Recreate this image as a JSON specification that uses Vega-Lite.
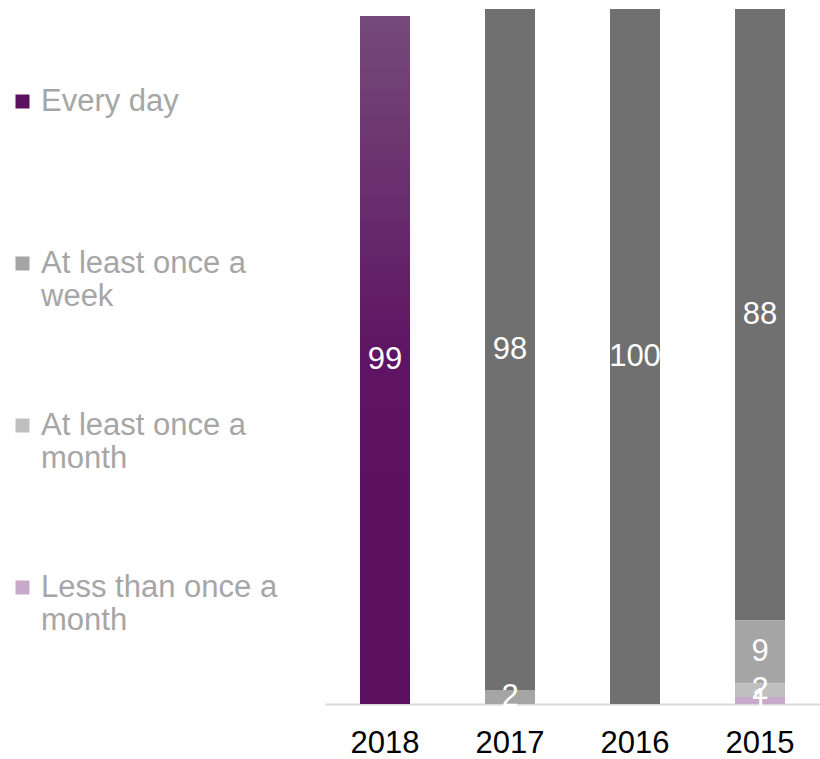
{
  "$schema": "https://vega.github.io/schema/vega-lite/v6.json",
  "width": 495,
  "height": 695,
  "autosize": "none",
  "padding": {"left": 325, "top": 9, "right": 0, "bottom": 55},
  "background": "white",
  "config": {"view": {"stroke": null}, "font": "Liberation Sans"},
  "data": {"values": [
    {"year": "2018", "series": "Every day", "k": 4, "value": 99},
    {"year": "2017", "series": "Every day", "k": 4, "value": 98},
    {"year": "2017", "series": "At least once a week", "k": 3, "value": 2},
    {"year": "2016", "series": "Every day", "k": 4, "value": 100},
    {"year": "2015", "series": "Every day", "k": 4, "value": 88},
    {"year": "2015", "series": "At least once a week", "k": 3, "value": 9},
    {"year": "2015", "series": "At least once a month", "k": 2, "value": 2},
    {"year": "2015", "series": "Less than once a month", "k": 1, "value": 1}
  ]},
  "transform": [
    {"stack": "value", "groupby": ["year"], "sort": [{"field": "k", "order": "ascending"}], "as": ["y0", "y1"]},
    {"calculate": "(datum.y0 + datum.y1) / 2", "as": "ymid"}
  ],
  "encoding": {
    "x": {
      "field": "year", "type": "nominal", "sort": ["2018", "2017", "2016", "2015"],
      "scale": {"paddingInner": 0.6, "paddingOuter": 0.28},
      "axis": {"title": null, "labelAngle": 0, "labelFontSize": 31, "labelColor": "black", "labelFont": "Liberation Sans", "ticks": false, "domainColor": "#d9d9d9", "domainWidth": 2, "labelPadding": 24}
    }
  },
  "layer": [
    {
      "mark": {"type": "bar"},
      "encoding": {
        "y": {"field": "y0", "type": "quantitative", "scale": {"domain": [0, 100]}, "axis": null},
        "y2": {"field": "y1"},
        "color": {
          "field": "series", "type": "nominal",
          "scale": {"domain": ["Every day", "At least once a week", "At least once a month", "Less than once a month"], "range": ["#5c1060", "#a5a5a5", "#bfbfbf", "#c8a9c9"]},
          "condition": [
            {"test": "datum.series === 'Every day' && datum.year === '2018'", "value": {"gradient": "linear", "x1": 0, "y1": 0, "x2": 0, "y2": 1, "stops": [{"offset": 0, "color": "#754a79"}, {"offset": 0.5, "color": "#5e1462"}, {"offset": 1, "color": "#5c1060"}]}},
            {"test": "datum.series === 'Every day'", "value": "#707070"}
          ],
          "legend": {
            "orient": "none", "legendX": -318, "legendY": 77, "title": null,
            "symbolType": "square", "symbolSize": 196, "symbolStrokeWidth": 0,
            "labelFontSize": 31, "labelColor": "#a6a6a6", "labelFont": "Liberation Sans", "labelLimit": 0, "labelOffset": 3,
            "rowPadding": 97, "gridAlign": "all",
            "labelExpr": "datum.label == 'Every day' ? 'Every day' : datum.label == 'At least once a week' ? ['At least once a', 'week'] : datum.label == 'At least once a month' ? ['At least once a', 'month'] : ['Less than once a', 'month']"
          }
        }
      }
    },
    {
      "mark": {"type": "text", "color": "white", "fontSize": 31, "font": "Liberation Sans"},
      "encoding": {
        "y": {"field": "ymid", "type": "quantitative"},
        "text": {"field": "value", "type": "quantitative"}
      }
    }
  ]
}
